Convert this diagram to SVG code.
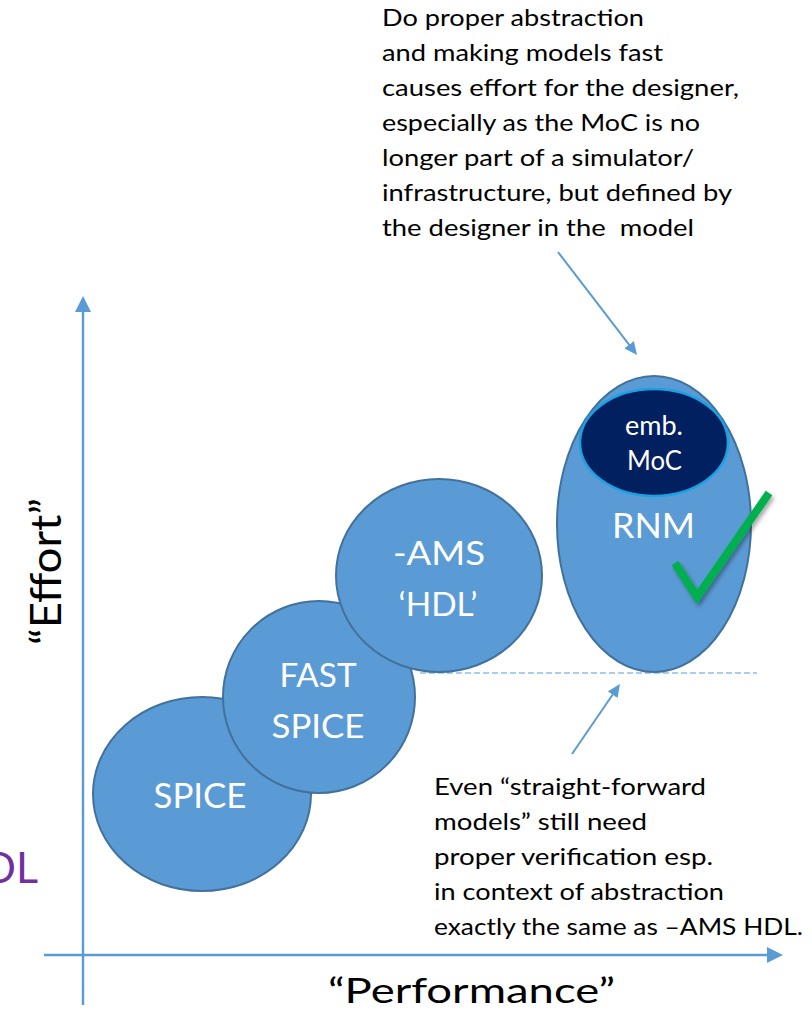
<svg xmlns="http://www.w3.org/2000/svg" width="812" height="1013" viewBox="0 0 812 1013">
  <style>
    .txt { font-family: Lato, "Open Sans", "Liberation Sans", sans-serif; fill: #000000; }
    .note { font-size: 24px; }
    .big { font-size: 36px; }
    .lbl { font-family: Lato, "Open Sans", "Liberation Sans", sans-serif; fill: #FFFFFF; text-anchor: middle; }
    .bubble { fill: #5B9BD5; stroke: #41719C; stroke-width: 2; }
    .axis { stroke: #5B9BD5; stroke-width: 2.4; fill: none; }
    .pointer { stroke: #5B9BD5; stroke-width: 2; fill: none; }
  </style>
  <defs>
    <marker id="axisHead" viewBox="0 0 16 16" refX="12" refY="8" markerWidth="16" markerHeight="16" markerUnits="userSpaceOnUse" orient="auto">
      <path d="M0,0 L16,8 L0,16 Z" fill="#5B9BD5"/>
    </marker>
    <marker id="ptrHead" viewBox="0 0 13 12" refX="9" refY="6" markerWidth="13" markerHeight="12" markerUnits="userSpaceOnUse" orient="auto">
      <path d="M0,0 L13,6 L0,12 Z" fill="#5B9BD5"/>
    </marker>
    <filter id="tickShadow" x="-20%" y="-20%" width="140%" height="140%">
      <feDropShadow dx="2" dy="3" stdDeviation="2" flood-color="#000000" flood-opacity="0.35"/>
    </filter>
  </defs>

  <!-- axes, pointers and the reference level line -->
  <g id="connectors">
    <line class="axis" x1="83" y1="1005" x2="83" y2="300" marker-end="url(#axisHead)"/>
    <line class="axis" x1="44" y1="955" x2="779" y2="955" marker-end="url(#axisHead)"/>
    <line class="pointer" x1="558" y1="252" x2="634.6" y2="351.8" marker-end="url(#ptrHead)"/>
    <line class="pointer" x1="572" y1="754" x2="617.7" y2="687.3" marker-end="url(#ptrHead)"/>
    <line x1="420" y1="673" x2="757" y2="673" stroke="#5B9BD5" stroke-width="1.2" stroke-dasharray="6 3"/>
  </g>

  <!-- axis captions -->
  <g id="axis-effort">
    <text class="txt" font-size="42" text-anchor="middle" transform="translate(61 571.5) rotate(-90)" textLength="147" lengthAdjust="spacingAndGlyphs">“Effort”</text>
  </g>
  <g id="axis-performance">
    <text class="txt" x="328" y="1003" font-size="35" textLength="287" lengthAdjust="spacingAndGlyphs">“Performance”</text>
  </g>
  <g id="hdl-caption">
    <text x="38" y="883" font-family="Lato, 'Open Sans', 'Liberation Sans', sans-serif" font-size="43" fill="#7030A0" text-anchor="end">HDL</text>
  </g>

  <!-- abstraction levels -->
  <g id="node-spice">
    <ellipse class="bubble" cx="202" cy="794" rx="109" ry="97"/>
    <text class="lbl" x="200" y="808" font-size="34" textLength="93" lengthAdjust="spacingAndGlyphs">SPICE</text>
  </g>
  <g id="node-fast-spice">
    <ellipse class="bubble" cx="319" cy="697" rx="96" ry="96"/>
    <text class="lbl" x="318" y="687" font-size="33" textLength="77" lengthAdjust="spacingAndGlyphs">FAST</text>
    <text class="lbl" x="318" y="738" font-size="33" textLength="93" lengthAdjust="spacingAndGlyphs">SPICE</text>
  </g>
  <g id="node-ams-hdl">
    <ellipse class="bubble" cx="439" cy="575.5" rx="103" ry="96.5"/>
    <text class="lbl" x="439" y="565" font-size="33" textLength="92" lengthAdjust="spacingAndGlyphs">-AMS</text>
    <text class="lbl" x="438" y="616" font-size="33" textLength="79" lengthAdjust="spacingAndGlyphs">‘HDL’</text>
  </g>
  <g id="node-rnm">
    <ellipse class="bubble" cx="654" cy="524" rx="97" ry="148"/>
    <text class="lbl" x="653.5" y="538" font-size="35" textLength="83" lengthAdjust="spacingAndGlyphs">RNM</text>
  </g>
  <g id="node-emb-moc">
    <ellipse cx="654" cy="442.5" rx="74" ry="53.5" fill="#002060" stroke="#1BA1E2" stroke-width="2.5"/>
    <text class="lbl" x="654" y="435" font-size="26" textLength="58" lengthAdjust="spacingAndGlyphs">emb.</text>
    <text class="lbl" x="654.5" y="470" font-size="26" textLength="55" lengthAdjust="spacingAndGlyphs">MoC</text>
  </g>

  <!-- approval tick on RNM -->
  <g id="check-mark">
    <polyline points="675,563 697,597 769,493" fill="none" stroke="#00B050" stroke-width="8" stroke-linejoin="miter" filter="url(#tickShadow)"/>
  </g>

  <!-- annotations -->
  <g id="note-top" class="txt note">
    <text x="382" y="26" textLength="262" lengthAdjust="spacingAndGlyphs">Do proper abstraction</text>
    <text x="382" y="61" textLength="281" lengthAdjust="spacingAndGlyphs">and making models fast</text>
    <text x="382" y="96" textLength="357" lengthAdjust="spacingAndGlyphs">causes effort for the designer,</text>
    <text x="382" y="131" textLength="318" lengthAdjust="spacingAndGlyphs">especially as the MoC is no</text>
    <text x="382" y="166" textLength="312" lengthAdjust="spacingAndGlyphs">longer part of a simulator/</text>
    <text x="382" y="201" textLength="350" lengthAdjust="spacingAndGlyphs">infrastructure, but defined by</text>
    <text x="382" y="236" textLength="312" lengthAdjust="spacingAndGlyphs" xml:space="preserve">the designer in the  model</text>
  </g>
  <g id="note-bottom" class="txt note">
    <text x="434" y="795" textLength="272" lengthAdjust="spacingAndGlyphs">Even “straight-forward</text>
    <text x="434" y="830" textLength="213" lengthAdjust="spacingAndGlyphs">models” still need</text>
    <text x="434" y="865" textLength="279" lengthAdjust="spacingAndGlyphs">proper verification esp.</text>
    <text x="434" y="900" textLength="290" lengthAdjust="spacingAndGlyphs">in context of abstraction</text>
    <text x="434" y="935" textLength="369" lengthAdjust="spacingAndGlyphs">exactly the same as –AMS HDL.</text>
  </g>
</svg>
